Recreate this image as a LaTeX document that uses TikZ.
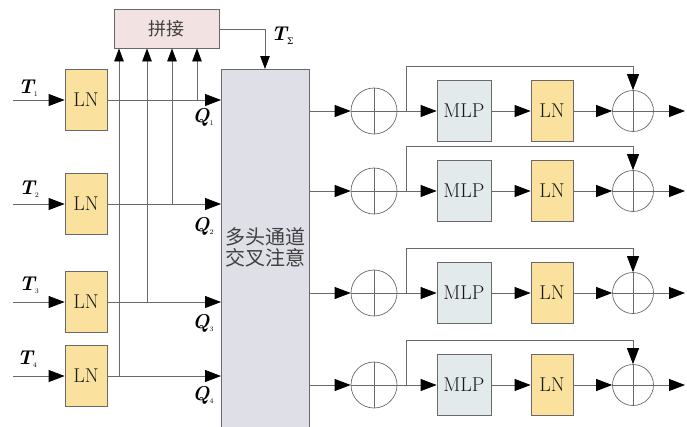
\documentclass[tikz,border=0pt]{standalone}
\usepackage{fontspec}
\newfontfamily\cjk{Noto Sans CJK SC}
\newfontfamily\grk{DejaVu Serif}
\usetikzlibrary{arrows.meta}
\definecolor{lncol}{RGB}{250,226,158}
\definecolor{catcol}{RGB}{242,226,226}
\definecolor{attcol}{RGB}{223,223,231}
\definecolor{mlpcol}{RGB}{226,234,236}
\definecolor{edgecol}{RGB}{105,105,105}
\definecolor{txtcol}{RGB}{25,25,25}
\tikzset{
  box/.style={draw=edgecol, line width=0.8pt, inner sep=0pt, text=txtcol},
  lnbox/.style={box, fill=lncol, minimum width=42pt, minimum height=61pt, font=\fontsize{20}{20}\selectfont},
  mlpbox/.style={box, fill=mlpcol, minimum width=54pt, minimum height=61pt, font=\fontsize{20}{20}\selectfont},
  addc/.style={circle, draw=edgecol, line width=0.7pt, inner sep=0pt},
  wire/.style={draw=edgecol, line width=0.8pt},
  arr/.style={wire, -{Triangle[length=16pt, width=12pt, color=black]}},
  sarr/.style={wire, -{Triangle[length=13pt, width=9.5pt, color=black]}},
  lbl/.style={inner sep=0pt, text=black, font=\fontsize{20}{20}\selectfont\bfseries\itshape},
}
\newcommand{\sub}[1]{\raisebox{-3pt}{\fontsize{7}{7}\selectfont\upshape\mdseries #1}}
\begin{document}
\begin{tikzpicture}[x=1pt, y=-1pt]
\useasboundingbox (0,0) rectangle (687,426);
% concat and attention
\node[box, fill=catcol, minimum width=105pt, minimum height=39pt, text=black!75, font=\cjk\fontsize{18}{18}\selectfont] (cat) at (166.5,28.5) {拼接};
\node[box, fill=attcol, minimum width=88pt, minimum height=362pt, anchor=north west] (att) at (221,69) {};
\node[inner sep=0pt, align=center, text=black!75, font=\cjk\fontsize{20}{21}\selectfont] (atttxt) at (265,247) {多头通道\\交叉注意};
% left LN boxes
\node[lnbox] (ln1) at (86,99.5) {LN};
\node[lnbox] (ln2) at (86,203.5) {LN};
\node[lnbox] (ln3) at (86,302) {LN};
\node[lnbox] (ln4) at (86,375.5) {LN};
\coordinate (in1) at (13,100);
\coordinate (in2) at (13,204);
\coordinate (in3) at (13,302);
\coordinate (in4) at (13,376);
\draw[arr] (in1) -- (ln1.west |- in1);
\draw[arr] (in2) -- (ln2.west |- in2);
\draw[arr] (in3) -- (ln3.west |- in3);
\draw[arr] (in4) -- (ln4.west |- in4);
\draw[arr] (ln1.east |- in1) -- (att.west |- in1);
\draw[arr] (ln2.east |- in2) -- (att.west |- in2);
\draw[arr] (ln3.east |- in3) -- (att.west |- in3);
\draw[arr] (ln4.east |- in4) -- (att.west |- in4);
% taps up to concat
\coordinate (v1) at (197,100);
\coordinate (v2) at (172,204);
\coordinate (v3) at (147,302);
\coordinate (v4) at (119,376);
\draw[sarr] (v1) -- (v1 |- cat.south);
\draw[sarr] (v2) -- (v2 |- cat.south);
\draw[sarr] (v3) -- (v3 |- cat.south);
\draw[sarr] (v4) -- (v4 |- cat.south);
% concat -> attention
\coordinate (tsig) at (265,29);
\draw[sarr] (cat.east |- tsig) -- (tsig) -- (tsig |- att.north);
% labels
\node[lbl] (t1) at (28,88) {T\sub{1}};
\node[lbl] (t2) at (29,189) {T\sub{2}};
\node[lbl] (t3) at (29,285) {T\sub{3}};
\node[lbl] (t4) at (27,359) {T\sub{4}};
\node[lbl] (q1) at (203,117) {Q\sub{1}};
\node[lbl] (q2) at (203,226) {Q\sub{2}};
\node[lbl] (q3) at (203,323) {Q\sub{3}};
\node[lbl] (q4) at (203,395) {Q\sub{4}};
\node[lbl, anchor=west] (ts) at (271,36) {T\raisebox{-4pt}{\grk\fontsize{9}{9}\selectfont\upshape\mdseries Σ}};
% right rows
\foreach \r/\y in {1/111, 2/191, 3/293, 4/385} {
  \node[addc, minimum size=46pt] (a\r) at (374,\y) {};
  \draw[wire] (a\r.north) -- (a\r.south) (a\r.west) -- (a\r.east);
  \node[mlpbox] (m\r) at (464,\y) {MLP};
  \node[lnbox] (l\r) at (552,\y) {LN};
  \node[addc, minimum size=41pt] (b\r) at (633,\y) {};
  \draw[wire] (b\r.north) -- (b\r.south) (b\r.west) -- (b\r.east);
  \coordinate (o\r) at (685,\y);
  \coordinate (k\r) at (406,\y);
  \draw[arr] (att.east |- a\r) -- (a\r.west);
  \draw[arr] (a\r.east) -- (m\r.west);
  \draw[arr] (m\r.east) -- (l\r.west);
  \draw[arr] (l\r.east) -- (b\r.west);
  \draw[arr] (b\r.east) -- (o\r);
  \draw[arr] (k\r) -- ++(0,-45) -| (b\r.north);
}
\end{tikzpicture}
\end{document}
